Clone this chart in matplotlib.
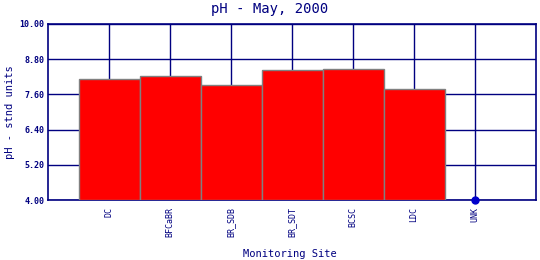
import matplotlib
matplotlib.use("Agg")
import matplotlib.pyplot as plt
import numpy as np

sites = ["DC", "BFCaBR", "BR_SDB", "BR_SDT", "BCSC", "LDC", "UNK"]
ph_values = [8.11, 8.22, 7.91, 8.42, 8.45, 7.77, np.nan]
y_ticks = [4.00, 5.20, 6.40, 7.60, 8.80, 10.00]

navy = "#000080"
mono = "DejaVu Sans Mono"
fig = plt.figure(figsize=(5.4, 2.6), dpi=100)
ax = fig.add_axes([48/540, 60/260, 488/540, 176/260])

x = np.arange(1, len(sites) + 1)
vals = np.array(ph_values, dtype=float)
mask = ~np.isnan(vals)
ax.bar(x[mask], vals[mask] - 4.0, bottom=4.0, width=1.0, color="#ff0000",
       edgecolor="#808080", linewidth=1.0, zorder=3)
# missing value marker
missing = x[~mask]
ax.plot(missing, [4.0] * len(missing), "o", color="#0000cc", markersize=5,
        zorder=5, clip_on=False)

ax.set_xlim(0, 8)
ax.set_ylim(4, 10)
ax.set_xticks(x)
ax.set_xticklabels(sites, rotation=90, fontsize=6, color=navy, family=mono)
ax.set_yticks(y_ticks)
ax.set_yticklabels([f"{v:.2f}" for v in y_ticks], fontsize=6, color=navy,
                   family=mono, fontweight="bold")
ax.tick_params(axis="y", length=0, pad=2.5)
ax.tick_params(axis="x", length=0, pad=5)
ax.grid(True, color=navy, linewidth=1.0, zorder=0)
ax.set_axisbelow(True)
for s in ax.spines.values():
    s.set_color(navy)
    s.set_linewidth(1.2)

fig.text(0.5, 1 - 9/260, "pH - May, 2000", ha="center", va="center",
         fontsize=10, color=navy, family=mono)
fig.text(10/540, 1 - 112/260, "pH - stnd units", ha="center", va="center",
         rotation=90, fontsize=7.5, color=navy, family=mono)
fig.text(290/540, 1 - 254/260, "Monitoring Site", ha="center", va="center",
         fontsize=7.5, color=navy, family=mono)

fig.savefig("out.png", dpi=100)
